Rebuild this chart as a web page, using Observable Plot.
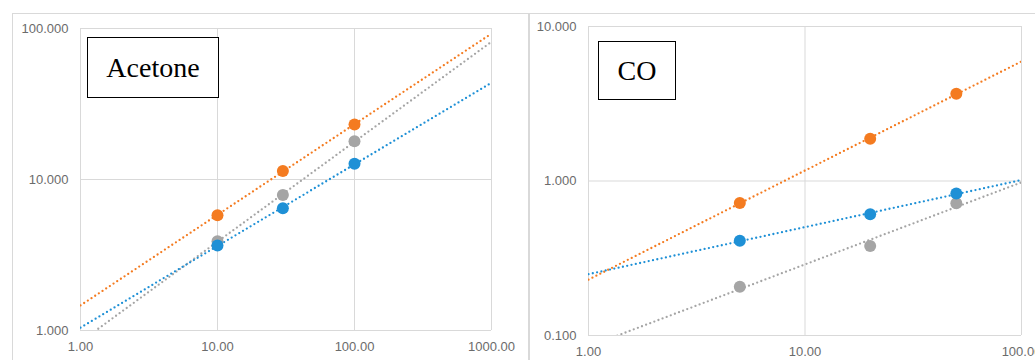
<!DOCTYPE html>
<html><head><meta charset="utf-8">
<script src="https://cdn.jsdelivr.net/npm/d3@7"></script>
<script src="https://cdn.jsdelivr.net/npm/@observablehq/plot@0.6"></script>
<style>
body{margin:0;background:#fff;width:1035px;height:360px;overflow:hidden;position:relative;font-family:"Liberation Sans",Arial,sans-serif}
.chart{position:absolute;top:0}
.panel{position:absolute;border:1px solid #D9D9D9;pointer-events:none}
.label{position:absolute;box-sizing:border-box;border:1.5px solid #000;background:#fff;font-family:"Liberation Serif","Times New Roman",serif;font-size:28px;display:flex;align-items:center;justify-content:center;color:#000}
</style>
</head><body>
<div id="left" class="chart" style="left:0;width:517px"></div>
<div id="right" class="chart" style="left:517px;width:518px"></div>
<div class="panel" style="left:12px;top:13px;width:515px;height:360px"></div>
<div class="panel" style="left:529px;top:13px;width:520px;height:360px"></div>
<div class="label" style="left:87px;top:37px;width:132px;height:61px">Acetone</div>
<div class="label" style="left:598px;top:41px;width:78px;height:59px">CO</div>
<script>
// ---- data ----
const seriesNames = ["Series 1", "Series 2", "Series 3"];
const seriesColors = ["#F47B20", "#A5A5A5", "#1E90D6"];

const acetoneX = [10, 30, 100];
const acetoneS1 = [5.8, 11.4, 23.1];
const acetoneS2 = [3.9, 7.9, 17.9];
const acetoneS3 = [3.66, 6.45, 12.7];

const coX = [5, 20, 50];
const coS1 = [0.72, 1.88, 3.67];
const coS2 = [0.207, 0.38, 0.717];
const coS3 = [0.41, 0.61, 0.83];

const acetoneXTicks = [1, 10, 100, 1000];
const acetoneYTicks = [1, 10, 100];
const coXTicks = [1, 10, 100];
const coYTicks = [0.1, 1, 10];

// power-law trendline (least squares in log-log space), evaluated across the x domain
function powerFit(xs, ys) {
  const lx = xs.map(Math.log10), ly = ys.map(Math.log10);
  const mx = d3.mean(lx), my = d3.mean(ly);
  const slope = d3.sum(lx, (v, i) => (v - mx) * (ly[i] - my)) / d3.sum(lx, v => (v - mx) ** 2);
  const b = my - slope * mx;
  return x => Math.pow(10, b + slope * Math.log10(x));
}

function buildPanel(xs, seriesVals, xTicks, yTicks, opts) {
  const points = [], trends = [];
  const xd = [xTicks[0], xTicks[xTicks.length - 1]];
  seriesVals.forEach((vals, s) => {
    vals.forEach((v, i) => points.push({x: xs[i], y: v, s: seriesNames[s]}));
    const f = powerFit(xs, vals);
    const steps = d3.range(0, 41).map(k => Math.pow(10, Math.log10(xd[0]) + k / 40 * (Math.log10(xd[1]) - Math.log10(xd[0]))));
    steps.forEach(x => trends.push({x, y: f(x), s: seriesNames[s]}));
  });
  return Plot.plot({
    width: opts.width, height: 360,
    marginLeft: opts.ml, marginRight: opts.mr, marginTop: opts.mt, marginBottom: opts.mb,
    style: {background: "transparent", fontSize: "13px", fontFamily: "'Liberation Sans', Arial, sans-serif", color: "#6b6b6b", overflow: "visible"},
    x: {type: "log", domain: xd, ticks: xTicks, tickFormat: d => d.toFixed(2)},
    y: {type: "log", domain: [yTicks[0], yTicks[yTicks.length - 1]], ticks: yTicks, tickFormat: d => d.toFixed(3)},
    color: {type: "ordinal", domain: seriesNames, range: seriesColors},
    marks: [
      Plot.gridX(xTicks, {stroke: "#D9D9D9", strokeOpacity: 1, strokeWidth: 1}),
      Plot.gridY(yTicks, {stroke: "#D9D9D9", strokeOpacity: 1, strokeWidth: 1}),
      Plot.axisX(xTicks, {tickSize: 0, tickPadding: 11, label: null, tickFormat: d => d.toFixed(2)}),
      Plot.axisY(yTicks, {tickSize: 0, tickPadding: 12, label: null, tickFormat: d => d.toFixed(3)}),
      Plot.line(trends, {x: "x", y: "y", z: "s", stroke: "s", strokeWidth: 2.3, strokeDasharray: "0,4.4", strokeLinecap: "round", clip: true}),
      Plot.dot(points, {x: "x", y: "y", fill: "s", r: 6})
    ]
  });
}

document.getElementById("left").append(
  buildPanel(acetoneX, [acetoneS1, acetoneS2, acetoneS3], acetoneXTicks, acetoneYTicks,
    {width: 517, ml: 80, mr: 26, mt: 28, mb: 30}));
document.getElementById("right").append(
  buildPanel(coX, [coS1, coS2, coS3], coXTicks, coYTicks,
    {width: 518, ml: 71, mr: 14, mt: 26, mb: 25}));
</script>
</body></html>
